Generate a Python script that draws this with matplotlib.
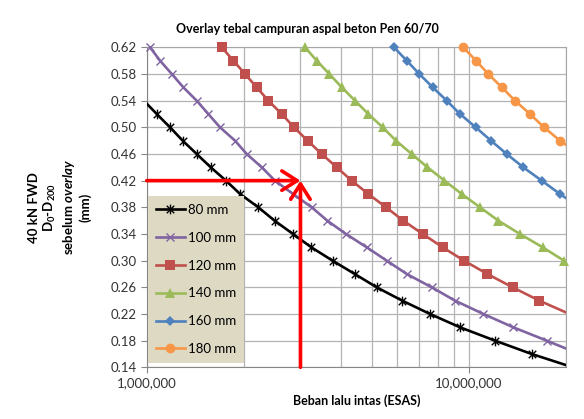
import matplotlib
matplotlib.use("Agg")
import matplotlib.pyplot as plt
import numpy as np
from matplotlib.path import Path
from matplotlib.ticker import FixedLocator, FuncFormatter, NullFormatter

plt.rcParams['font.family'] = ['Lato', 'DejaVu Sans']
plt.rcParams['mathtext.fontset'] = 'custom'
plt.rcParams['mathtext.rm'] = 'Lato'
plt.rcParams['mathtext.bf'] = 'Lato:bold'
plt.rcParams['mathtext.it'] = 'Lato:italic'
plt.rcParams['mathtext.bfit'] = 'Lato:bold:italic'

# deflection D0-D200 (mm) and traffic load (ESA) for each overlay thickness
d_80 = [0.54, 0.52, 0.50, 0.48, 0.46, 0.44, 0.42, 0.40, 0.38, 0.36, 0.34, 0.32,
        0.30, 0.28, 0.26, 0.24, 0.22, 0.20, 0.18, 0.16, 0.14]
esa_80 = [0.98e6, 1.074e6, 1.181e6, 1.293e6, 1.429e6, 1.580e6, 1.762e6, 1.948e6,
          2.220e6, 2.492e6, 2.844e6, 3.242e6, 3.772e6, 4.420e6, 5.171e6, 6.205e6,
          7.568e6, 9.378e6, 1.204e7, 1.565e7, 2.10e7]

d_100 = [0.62, 0.60, 0.58, 0.56, 0.54, 0.52, 0.50, 0.48, 0.46, 0.44, 0.42, 0.40,
         0.38, 0.36, 0.34, 0.32, 0.30, 0.28, 0.26, 0.24, 0.22, 0.20, 0.18, 0.16]
esa_100 = [1.024e6, 1.100e6, 1.196e6, 1.299e6, 1.429e6, 1.553e6, 1.688e6, 1.879e6,
           2.043e6, 2.275e6, 2.50e6, 2.844e6, 3.251e6, 3.633e6, 4.153e6, 4.815e6,
           5.555e6, 6.409e6, 7.661e6, 9.05e6, 1.108e7, 1.372e7, 1.742e7, 2.20e7]

d_120 = [0.62, 0.60, 0.58, 0.56, 0.54, 0.52, 0.50, 0.48, 0.46, 0.44, 0.42, 0.40,
         0.38, 0.36, 0.34, 0.32, 0.30, 0.28, 0.26, 0.24, 0.22]
esa_120 = [1.709e6, 1.857e6, 2.018e6, 2.194e6, 2.384e6, 2.624e6, 2.864e6, 3.155e6,
           3.491e6, 3.886e6, 4.325e6, 4.870e6, 5.528e6, 6.254e6, 7.184e6, 8.287e6,
           9.650e6, 1.140e7, 1.366e7, 1.652e7, 2.05e7]

d_140 = [0.62, 0.60, 0.58, 0.56, 0.54, 0.52, 0.50, 0.48, 0.46, 0.44, 0.42, 0.40,
         0.38, 0.36, 0.34, 0.32, 0.30]
esa_140 = [3.098e6, 3.369e6, 3.687e6, 4.027e6, 4.430e6, 4.870e6, 5.398e6, 5.935e6,
           6.642e6, 7.434e6, 8.395e6, 9.493e6, 1.082e7, 1.233e7, 1.439e7, 1.693e7,
           1.971e7]

d_160 = [0.62, 0.60, 0.58, 0.56, 0.54, 0.52, 0.50, 0.48, 0.46, 0.44, 0.42, 0.40, 0.38]
esa_160 = [5.851e6, 6.409e6, 7.012e6, 7.716e6, 8.528e6, 9.378e6, 1.049e7, 1.170e7,
           1.309e7, 1.474e7, 1.681e7, 1.916e7, 2.20e7]

d_180 = [0.62, 0.60, 0.58, 0.56, 0.54, 0.52, 0.50, 0.48, 0.46]
esa_180 = [9.601e6, 1.051e7, 1.148e7, 1.264e7, 1.389e7, 1.546e7, 1.709e7, 1.916e7, 2.20e7]

labels = ['80 mm', '100 mm', '120 mm', '140 mm', '160 mm', '180 mm']
yticks = [0.14, 0.18, 0.22, 0.26, 0.30, 0.34, 0.38, 0.42, 0.46, 0.50, 0.54, 0.58, 0.62]
xmajor = [1e6, 1e7]

# design example shown with the red arrows
design_load = 3.0e6
design_deflection = 0.42

xmin, xmax = 1e6, 2e7
ymin, ymax = 0.14, 0.62

star = Path([(-1, -1), (1, 1), (-1, 1), (1, -1), (0, -1.3), (0, 1.3)],
            [Path.MOVETO, Path.LINETO, Path.MOVETO, Path.LINETO, Path.MOVETO, Path.LINETO])

styles = [
    dict(color='#000000', marker=star, ms=7, mew=1.0, mfc='none'),
    dict(color='#8064A2', marker='x', ms=5.5, mew=1.0),
    dict(color='#C0504D', marker='s', ms=6.5, mew=0),
    dict(color='#9BBB59', marker='^', ms=7, mew=0),
    dict(color='#4F81BD', marker='D', ms=5, mew=0),
    dict(color='#F79646', marker='o', ms=7, mew=0),
]
series = [(esa_80, d_80), (esa_100, d_100), (esa_120, d_120),
          (esa_140, d_140), (esa_160, d_160), (esa_180, d_180)]

fig = plt.figure(figsize=(5.84, 4.19), dpi=100)
ax = fig.add_axes([146.7 / 584, 1 - 367.3 / 419, (566 - 146.7) / 584, 320 / 419])

handles = []
for (x, y), st, lab in zip(series, styles, labels):
    x = np.array(x)
    y = np.array(y)
    ax.plot(x, y, color=st['color'], lw=1.9, zorder=3)
    inside = (x >= xmin) & (x <= xmax)
    ax.plot(x[inside], y[inside], ls='none', marker=st['marker'], ms=st['ms'],
            mew=st['mew'], color=st['color'], mec=st['color'],
            mfc=st.get('mfc', st['color']), clip_on=False, zorder=4)
    h, = ax.plot([], [], color=st['color'], lw=1.9, marker=st['marker'], ms=st['ms'],
                 mew=st['mew'], mec=st['color'], mfc=st.get('mfc', st['color']), label=lab)
    handles.append(h)

arrow = dict(arrowstyle='->, head_length=0.55, head_width=0.35', color='#FF0000',
             lw=2.6, mutation_scale=20, shrinkA=0, shrinkB=0)
ax.annotate('', xy=(design_load, design_deflection), xytext=(xmin, design_deflection),
            arrowprops=arrow, zorder=5)
ax.annotate('', xy=(design_load, design_deflection), xytext=(design_load, ymin),
            arrowprops=arrow, zorder=5)

ax.set_xscale('log')
ax.set_xlim(xmin, xmax)
ax.set_ylim(ymin, ymax)
ax.set_yticks(yticks)
ax.yaxis.set_major_formatter(FuncFormatter(lambda v, p: f'{v:.2f}'))
ax.xaxis.set_major_locator(FixedLocator(xmajor))
ax.xaxis.set_major_formatter(FuncFormatter(lambda v, p: f'{v:,.0f}'))
ax.xaxis.set_minor_formatter(NullFormatter())
ax.grid(True, which='major', color='#B3B3B3', lw=0.9, zorder=0)
ax.grid(True, which='minor', axis='x', color='#B3B3B3', lw=0.9, zorder=0)
ax.set_axisbelow(True)
ax.tick_params(axis='both', which='major', direction='out', length=4, width=0.8,
               color='#868686', labelsize=9.5, labelcolor='#333333', pad=3)
ax.tick_params(axis='x', which='minor', length=0)
for sp in ax.spines.values():
    sp.set_color('#A6A6A6')
    sp.set_linewidth(0.8)
ax.spines['left'].set_color('#868686')
ax.spines['bottom'].set_color('#868686')

ax.set_title('Overlay tebal campuran aspal beton Pen 60/70', fontsize=9,
             fontweight='bold', pad=10, x=0.3835)
ax.set_xlabel('Beban lalu intas (ESAS)', fontsize=9, fontweight='bold', labelpad=4)
ax.set_ylabel('40 kN FWD\n$\\mathbf{D_0}$-$\\mathbf{D_{200}}$\nsebelum $\\mathbfit{overlay}$\n(mm)',
              fontsize=9.5, fontweight='bold', linespacing=1.2)
ax.yaxis.set_label_coords(-0.132, 0.5)

leg = ax.legend(handles=handles, loc='upper left',
                bbox_to_anchor=((148 - 146.7) / 419.3, (367.3 - 196) / 320),
                borderaxespad=0, fontsize=9.5, frameon=True, fancybox=False,
                facecolor='#DDD9C3', edgecolor='none', framealpha=1,
                numpoints=1, handlelength=2.2, handletextpad=0.2,
                labelspacing=1.2, borderpad=0.6)
leg.set_zorder(6)

fig.savefig('out.png', dpi=100)
